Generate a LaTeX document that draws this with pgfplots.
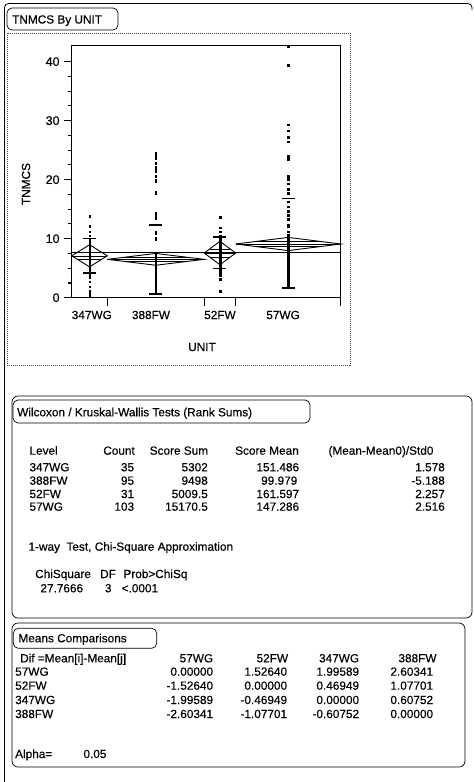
\documentclass[border=0pt]{standalone}
\usepackage{fontspec}
\setmainfont{Liberation Sans}[FakeBold=0.35]
\usepackage{pgfplots}
\pgfplotsset{compat=1.18}
\begin{document}
\fontsize{11.8}{13}\selectfont
\begin{tikzpicture}
\useasboundingbox (0,0) rectangle (474pt,-782pt);
\begin{scope}[x=1pt,y=-1pt, every node/.style={inner sep=0pt, font=\fontsize{11.8}{13}\selectfont}]
% outer frame
\draw[line width=0.8pt, rounded corners=4pt] (4.5,782) -- (4.5,3.5) -- (472,3.5) -- (472,10);
% title box
\draw[line width=0.7pt, rounded corners=5pt] (7,8) rectangle (118,30);
\node[anchor=base west] at (12,23.5) {TNMCS By UNIT};
% plot panel
\draw[black!75, densely dotted, line width=1pt] (7,33) rectangle (350,365);
\node[rotate=90] at (26,184) {TNMCS};
\node at (202,347) {UNIT};
% Wilcoxon box
\draw[line width=0.7pt, rounded corners=6pt] (12,396) rectangle (472,618);
\draw[line width=0.7pt, rounded corners=5pt] (13,400) rectangle (310,423);
\node[anchor=base west] at (17,416.3) {Wilcoxon / Kruskal-Wallis Tests (Rank Sums)};
\node[anchor=base west] at (29.3,454.7) {Level};
\node[anchor=base east] at (135,454.7) {Count};
\node[anchor=base east] at (208.3,454.7) {Score Sum};
\node[anchor=base east] at (299,454.7) {Score Mean};
\node[anchor=base west] at (328.3,454.7) {(Mean-Mean0)/Std0};
% rows
\node[anchor=base west] at (29.3,471.3) {347WG};
\node[anchor=base east] at (134.3,471.3) {35};
\node[anchor=base east] at (208,471.3) {5302};
\node[anchor=base east] at (299.3,471.3) {151.486};
\node[anchor=base east] at (445,471.3) {1.578};
\node[anchor=base west] at (29.3,484.7) {388FW};
\node[anchor=base east] at (134.3,484.7) {95};
\node[anchor=base east] at (208,484.7) {9498};
\node[anchor=base east] at (297.5,484.7) {99.979};
\node[anchor=base east] at (445,484.7) {-5.188};
\node[anchor=base west] at (29.3,498) {52FW};
\node[anchor=base east] at (134.3,498) {31};
\node[anchor=base east] at (208,498) {5009.5};
\node[anchor=base east] at (299.3,498) {161.597};
\node[anchor=base east] at (445,498) {2.257};
\node[anchor=base west] at (29.3,510.7) {57WG};
\node[anchor=base east] at (134.3,510.7) {103};
\node[anchor=base east] at (208,510.7) {15170.5};
\node[anchor=base east] at (299.3,510.7) {147.286};
\node[anchor=base east] at (445,510.7) {2.516};
\node[anchor=base west] at (28.3,550.7) {1-way\ \ Test, Chi-Square Approximation};
\node[anchor=base west] at (35,578) {ChiSquare};
\node[anchor=base west] at (100,578) {DF};
\node[anchor=base west] at (123.3,578) {Prob>ChiSq};
\node[anchor=base east] at (83.3,592.3) {27.7666};
\node[anchor=base east] at (111.7,592.3) {3};
\node[anchor=base east] at (158.3,592.3) {<.0001};
% Means comparisons
\draw[line width=0.7pt, rounded corners=6pt] (12,623) rectangle (465,767);
\draw[line width=0.7pt, rounded corners=5pt] (13.3,628.3) rectangle (156.7,648.3);
\node[anchor=base west] at (18.3,642.3) {Means Comparisons};
\node[anchor=base west] at (20,662.3) {Dif =Mean[i]-Mean[j]};
\node[anchor=base east] at (213.3,662.3) {57WG};
\node[anchor=base east] at (288.3,662.3) {52FW};
\node[anchor=base east] at (359.3,662.3) {347WG};
\node[anchor=base east] at (436.7,662.3) {388FW};
\node[anchor=base west] at (15,675.7) {57WG};
\node[anchor=base east] at (213.3,675.7) {0.00000};
\node[anchor=base east] at (287.3,675.7) {1.52640};
\node[anchor=base east] at (359.3,675.7) {1.99589};
\node[anchor=base east] at (433.3,675.7) {2.60341};
\node[anchor=base west] at (15,689.7) {52FW};
\node[anchor=base east] at (213.3,689.7) {-1.52640};
\node[anchor=base east] at (287.3,689.7) {0.00000};
\node[anchor=base east] at (359.3,689.7) {0.46949};
\node[anchor=base east] at (433.3,689.7) {1.07701};
\node[anchor=base west] at (15,704) {347WG};
\node[anchor=base east] at (213.3,704) {-1.99589};
\node[anchor=base east] at (287.3,704) {-0.46949};
\node[anchor=base east] at (359.3,704) {0.00000};
\node[anchor=base east] at (433.3,704) {0.60752};
\node[anchor=base west] at (15,718) {388FW};
\node[anchor=base east] at (213.3,718) {-2.60341};
\node[anchor=base east] at (287.3,718) {-1.07701};
\node[anchor=base east] at (359.3,718) {-0.60752};
\node[anchor=base east] at (433.3,718) {0.00000};
\node[anchor=base west] at (15,758) {Alpha=};
\node[anchor=base west] at (83.3,758) {0.05};
\end{scope}

\begin{axis}[
  at={(71.7pt,-297.7pt)}, anchor=south west,
  scale only axis, width=269pt, height=252pt,
  xmin=0, xmax=264, ymin=0, ymax=42.7,
  clip=false,
  axis line style={line width=1.3pt},
  xtick={35,130,161,264}, xticklabels={,,,},
  ytick={0,10,20,30,40}, minor y tick num=3,
  tick align=outside, xtick pos=bottom, ytick pos=left,
  major tick length=8pt, minor tick length=4pt,
  tick style={line width=1.1pt, black},
  yticklabel style={font=\fontsize{12.5}{14}\selectfont},
  /pgf/number format/assume math mode=true,
]
% grand mean
\addplot[line width=1.2pt] coordinates {(0,7.62) (264,7.62)};
% diamonds
\addplot[line width=0.9pt] coordinates {(0,7.1) (17.5,8.97) (35,7.1) (17.5,5.23) (0,7.1)};
\addplot[line width=0.6pt] coordinates {(0,7.1) (35,7.1)};
\addplot[line width=0.6pt] coordinates {(6.1,7.75) (28.9,7.75)};
\addplot[line width=0.6pt] coordinates {(6.1,6.45) (28.9,6.45)};
\addplot[line width=0.9pt] coordinates {(35,6.5) (82.5,7.5) (130,6.5) (82.5,5.5) (35,6.5)};
\addplot[line width=0.6pt] coordinates {(35,6.5) (130,6.5)};
\addplot[line width=0.6pt] coordinates {(51.6,6.85) (113.4,6.85)};
\addplot[line width=0.6pt] coordinates {(51.6,6.15) (113.4,6.15)};
\addplot[line width=0.9pt] coordinates {(130,7.57) (145.5,9.55) (161,7.57) (145.5,5.59) (130,7.57)};
\addplot[line width=0.6pt] coordinates {(130,7.57) (161,7.57)};
\addplot[line width=0.6pt] coordinates {(135.4,8.26) (155.6,8.26)};
\addplot[line width=0.6pt] coordinates {(135.4,6.88) (155.6,6.88)};
\addplot[line width=0.9pt] coordinates {(161,9.1) (212.5,10.22) (264,9.1) (212.5,7.98) (161,9.1)};
\addplot[line width=0.6pt] coordinates {(161,9.1) (264,9.1)};
\addplot[line width=0.6pt] coordinates {(179,9.5) (246,9.5)};
\addplot[line width=0.6pt] coordinates {(179,8.7) (246,8.7)};
% SD caps
\addplot[line width=1.6pt] coordinates {(11.1,10.0) (23.9,10.0)};
\addplot[line width=1.6pt] coordinates {(11.1,4.2) (23.9,4.2)};
\addplot[line width=1.6pt] coordinates {(76.1,12.3) (88.9,12.3)};
\addplot[line width=1.6pt] coordinates {(76.1,0.65) (88.9,0.65)};
\addplot[line width=1.6pt] coordinates {(139.1,10.3) (151.9,10.3)};
\addplot[line width=1.6pt] coordinates {(139.1,4.95) (151.9,4.95)};
\addplot[line width=1.6pt] coordinates {(206.1,16.8) (218.9,16.8)};
\addplot[line width=1.6pt] coordinates {(206.1,1.6) (218.9,1.6)};
% data points
\addplot[only marks, mark=square*, mark size=0.75pt, black] table[row sep=\\] {
x y\\
17.5 13.8\\ 17.5 12.1\\ 17.5 11.2\\ 17.5 10.5\\ 17.5 9.9\\ 17.5 9.4\\ 17.5 9.0\\ 17.5 8.8\\ 17.5 8.6\\ 17.5 8.3\\
17.5 8.0\\ 17.5 7.8\\ 17.5 7.6\\ 17.5 7.4\\ 17.5 7.2\\ 17.5 7.0\\ 17.5 6.8\\ 17.5 6.6\\ 17.5 6.4\\ 17.5 6.2\\
17.5 6.0\\ 17.5 5.8\\ 17.5 5.6\\ 17.5 5.5\\ 17.5 5.3\\ 17.5 5.0\\ 17.5 4.7\\ 17.5 4.4\\ 17.5 4.0\\ 17.5 3.5\\
17.5 2.7\\ 17.5 1.9\\ 17.5 1.1\\ 17.5 0.6\\ 17.5 0.2\\
};
\addplot[only marks, mark=square*, mark size=0.75pt, black] table[row sep=\\] {
x y\\
82.5 24.5\\ 82.5 24.1\\ 82.5 23.6\\ 82.5 22.8\\ 82.5 22.1\\ 82.5 21.9\\ 82.5 21.4\\ 82.5 20.6\\ 82.5 20.0\\ 82.5 19.7\\
82.5 18.0\\ 82.5 17.7\\ 82.5 14.3\\ 82.5 13.9\\ 82.5 13.5\\ 82.5 11.2\\ 82.5 10.9\\ 82.5 10.1\\ 82.5 9.8\\
82.5 7.6\\ 82.5 7.3\\ 82.5 7.0\\ 82.5 6.8\\ 82.5 6.6\\ 82.5 6.4\\ 82.5 6.2\\ 82.5 6.0\\ 82.5 5.8\\ 82.5 5.6\\
82.5 5.4\\ 82.5 5.2\\ 82.5 5.0\\ 82.5 4.8\\ 82.5 4.6\\ 82.5 4.4\\ 82.5 4.2\\ 82.5 4.0\\ 82.5 3.8\\ 82.5 3.6\\
82.5 3.4\\ 82.5 3.2\\ 82.5 3.0\\ 82.5 2.8\\ 82.5 2.6\\ 82.5 2.4\\ 82.5 2.2\\ 82.5 2.0\\ 82.5 1.8\\ 82.5 1.6\\
82.5 1.4\\ 82.5 1.2\\ 82.5 1.0\\ 82.5 0.8\\ 82.5 0.7\\
};
\addplot[only marks, mark=square*, mark size=0.75pt, black] table[row sep=\\] {
x y\\
145.5 13.6\\ 145.5 11.9\\ 145.5 11.2\\ 145.5 10.5\\ 145.5 10.1\\ 145.5 9.8\\ 145.5 9.5\\ 145.5 9.2\\ 145.5 8.9\\ 145.5 8.6\\
145.5 8.3\\ 145.5 8.0\\ 145.5 7.8\\ 145.5 7.5\\ 145.5 7.2\\ 145.5 6.9\\ 145.5 6.6\\ 145.5 6.3\\ 145.5 6.0\\ 145.5 5.7\\
145.5 5.4\\ 145.5 5.1\\ 145.5 4.8\\ 145.5 4.5\\ 145.5 4.1\\ 145.5 3.7\\ 145.5 3.1\\ 145.5 1.1\\
};
\addplot[only marks, mark=square*, mark size=0.75pt, black] table[row sep=\\] {
x y\\
212.5 42.5\\ 212.5 39.4\\ 212.5 29.3\\ 212.5 28.3\\ 212.5 27.2\\ 212.5 26.4\\ 212.5 24.0\\ 212.5 23.5\\ 212.5 20.6\\ 212.5 20.1\\
212.5 19.3\\ 212.5 18.4\\ 212.5 17.7\\ 212.5 16.3\\ 212.5 15.4\\ 212.5 14.7\\ 212.5 14.0\\ 212.5 13.3\\ 212.5 12.3\\ 212.5 12.0\\
212.5 11.2\\ 212.5 10.6\\ 212.5 10.2\\ 212.5 10.0\\ 212.5 9.8\\ 212.5 9.6\\ 212.5 9.4\\ 212.5 9.2\\ 212.5 9.0\\ 212.5 8.8\\
212.5 8.6\\ 212.5 8.4\\ 212.5 8.2\\ 212.5 8.0\\ 212.5 7.8\\ 212.5 7.6\\ 212.5 7.4\\ 212.5 7.2\\ 212.5 7.0\\ 212.5 6.8\\
212.5 6.6\\ 212.5 6.4\\ 212.5 6.2\\ 212.5 6.0\\ 212.5 5.8\\ 212.5 5.6\\ 212.5 5.4\\ 212.5 5.2\\ 212.5 5.0\\ 212.5 4.8\\
212.5 4.6\\ 212.5 4.4\\ 212.5 4.2\\ 212.5 4.0\\ 212.5 3.8\\ 212.5 3.6\\ 212.5 3.4\\ 212.5 3.2\\ 212.5 3.0\\ 212.5 2.8\\
212.5 2.6\\ 212.5 2.4\\ 212.5 2.2\\ 212.5 2.0\\ 212.5 1.8\\
};
% category labels
\node[font=\fontsize{11.8}{13}\selectfont] at (axis cs:19.7,0) [yshift=-17.3pt] {347WG};
\node[font=\fontsize{11.8}{13}\selectfont] at (axis cs:77.8,0) [yshift=-17.3pt] {388FW};
\node[font=\fontsize{11.8}{13}\selectfont] at (axis cs:145.5,0) [yshift=-17.3pt] {52FW};
\node[font=\fontsize{11.8}{13}\selectfont] at (axis cs:207.4,0) [yshift=-17.3pt] {57WG};
\end{axis}
\end{tikzpicture}
\end{document}
